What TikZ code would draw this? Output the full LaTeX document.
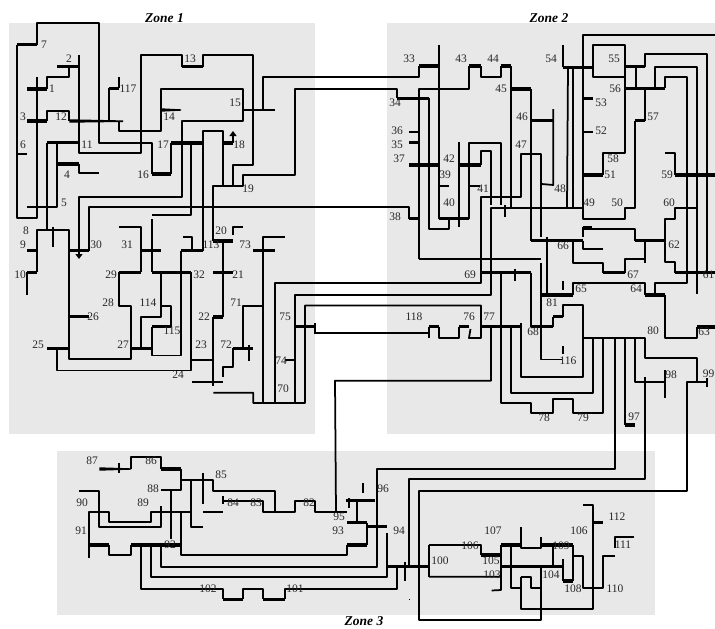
\documentclass[tikz,border=0pt]{standalone}
\usepackage{fontspec}
\setmainfont{Liberation Serif}
\usetikzlibrary{arrows.meta}
\definecolor{zonegray}{HTML}{E8E8E8}
\tikzset{
  zonebox/.style={fill=zonegray,draw=none},
  wire/.style={draw=black,line width=1.75pt,line join=round,line cap=butt},
  bus/.style={draw=black,line width=3.3pt,line cap=butt},
  lbl/.style={inner sep=0pt,font=\fontsize{11.5}{12}\selectfont,text=black!85},
  ztitle/.style={inner sep=0pt,font=\fontsize{13.5}{14}\selectfont\bfseries\itshape}
}
\begin{document}
\begin{tikzpicture}[x=1pt,y=-1pt]
\useasboundingbox (0,0) rectangle (715,629);
% zones
\fill[zonebox] (9,23) rectangle (315,434);
\fill[zonebox] (387,23) rectangle (715,434);
\fill[zonebox] (57,451) rectangle (655,615);
% ---------- Zone 1 wires
\draw[wire] (37,44.7) -- (37,23) -- (99,23) -- (99,143) -- (152,143) -- (152,174);
\draw[wire] (171.3,174) -- (171.3,143);
\draw[wire] (203.3,143) -- (203.3,131) -- (223.3,131) -- (223.3,186);
\draw[wire] (203.3,143) -- (203.3,250.7);
\draw[wire] (152,215) -- (191,215) -- (191,143);
\draw[wire] (152,219) -- (152,272.3);
\draw[wire] (191,272.3) -- (191,370.5) -- (57.3,370.5) -- (57.3,348.3);
\draw[wire] (191,360) -- (213.3,360);
\draw[wire] (213.3,317) -- (213.3,386);
\draw[wire] (223,241) -- (223,317);
\draw[wire] (191.7,382) -- (222.7,382);
\draw[wire] (213.3,392.7) -- (253.3,392.7) -- (253.3,403) -- (305,403) -- (305,305.5) -- (481,305.5) -- (481,338) -- (469,338) -- (470.5,329);
\draw[wire] (262.7,403) -- (262.7,236.7) -- (285,236.7);
\draw[wire] (242.7,348.3) -- (242.7,306) -- (262.7,306);
\draw[wire] (249.3,345) -- (249.3,360.7);
\draw[wire] (232.7,348.3) -- (232.7,366.7) -- (222.7,366.7) -- (222.7,376.7);
\draw[wire] (232.7,235) -- (232.7,226.7) -- (242.7,226.7);
\draw[wire] (213.3,241) -- (213.3,186) -- (242.7,186) -- (242.7,175) -- (295,175) -- (295,89) -- (397,89) -- (397,98.3);
\draw[wire] (233.3,186) -- (233.3,165) -- (253.3,165) -- (253.3,55) -- (203.3,55) -- (203.3,66.7);
\draw[wire] (181.7,66.7) -- (181.7,55) -- (141,55) -- (141,152.7) -- (79,152.7) -- (79,55);
\draw[wire] (183,236.7) -- (191.7,236.7) -- (191.7,250.7);
\draw[wire] (181,250.7) -- (181,355.5) -- (151.7,355.5) -- (151.7,326.7);
\draw[wire] (171,326.7) -- (171,306) -- (161,306);
\draw[wire] (161,272.3) -- (161,316.7) -- (141,316.7) -- (141,348.3);
\draw[wire] (131,348.3) -- (131,306) -- (119.3,306) -- (119.3,272.3);
\draw[wire] (131,348.3) -- (131,359) -- (69.3,359) -- (69.3,230) -- (36.7,230) -- (36.7,272.3);
\draw[wire] (141,272.3) -- (141,226.7) -- (119.3,226.7);
\draw[wire] (27.3,272.3) -- (27.3,295);
\draw[wire] (52.7,227) -- (52.7,246.7);
\draw[wire] (47.3,142.7) -- (47.3,230);
\draw[wire] (57.3,142.7) -- (57.3,207.3) -- (27.3,207.3);
\draw[wire] (79,164) -- (79,172.7) -- (99,172.7);
\draw[wire] (69.3,66.7) -- (69.3,77.3) -- (47.3,77.3) -- (47.3,89);
\draw[wire] (36.7,77) -- (36.7,218) -- (17.3,218) -- (17.3,44.7);
\draw[wire] (47.3,121) -- (47.3,110.7) -- (69.3,110.7) -- (69.3,121);
\draw[wire] (109.3,121) -- (109.3,88.3);
\draw[wire] (119.3,77) -- (119.3,88.3);
\draw[wire] (119.3,121) -- (119.3,131) -- (161,131) -- (161,89) -- (242.7,89) -- (242.7,120.7) -- (181.7,120.7) -- (181.7,196.7) -- (79,196.7) -- (79,250.7);
\draw[wire] (243,110) -- (275,110);
\draw[wire] (262.7,110) -- (262.7,77) -- (419,77) -- (419,66);
\draw[wire] (89.3,250.7) -- (89.3,207.3) -- (409,207.3) -- (409,218.7);
\draw[wire] (17.3,154) -- (26.7,154);
% ---------- Zone 2 wires
\draw[wire] (439,45) -- (439,218.7);
\draw[wire] (419,259) -- (419,89) -- (469.3,89) -- (469.3,66);
\draw[wire] (419,259) -- (541,259);
\draw[wire] (541,263) -- (541,359.5) -- (562,359.5);
\draw[wire] (563.3,346) -- (563.3,354);
\draw[wire] (480.7,66) -- (480.7,77) -- (500.7,77) -- (500.7,66);
\draw[wire] (510.7,66) -- (510.7,207.7);
\draw[wire] (530.7,89) -- (530.7,240.7);
\draw[wire] (553.3,109) -- (553.3,185) -- (541.7,184);
\draw[wire] (275,403) -- (275,282.7) -- (481,282.7) -- (481,197) -- (521,197) -- (521,154) -- (541,154) -- (541,237);
\draw[wire] (295,403) -- (295,295) -- (491,295) -- (491,207.7) -- (583.3,207.7);
\draw[wire] (547,237) -- (547,295);
\draw[wire] (429,98.3) -- (429,228.7) -- (449.3,228.7) -- (449.3,218.7);
\draw[wire] (459,141.7) -- (459,226.7);
\draw[wire] (480.7,165) -- (480.7,150.7) -- (491,150.7) -- (491,205);
\draw[wire] (469.3,218.7) -- (469.3,143.3) -- (500.7,143.3) -- (500.7,205);
\draw[wire] (469.3,185.7) -- (480,185.7);
\draw[wire] (439,185.7) -- (449,185.7);
\draw[wire] (409.3,131.7) -- (419,131.7);
\draw[wire] (505,205) -- (505,216.7);
\draw[wire] (515,269.3) -- (515,281);
\draw[wire] (563.3,67.3) -- (563.3,45);
\draw[wire] (568,67.3) -- (567,207.7);
\draw[wire] (573.3,67.3) -- (573.3,207.7);
\draw[wire] (625,76.7) -- (593.3,76.7) -- (593.3,45) -- (625,45) -- (625,153.3) -- (603.3,153.3) -- (603.3,175);
\draw[wire] (583.3,132.3) -- (593.3,132.3);
\draw[wire] (635.7,66.7) -- (635.7,88.3);
\draw[wire] (645,88.3) -- (645,120.7);
\draw[wire] (635,120.7) -- (635,207.7) -- (625,207.7) -- (625,219) -- (583.3,219) -- (583.3,35) -- (715,35);
\draw[wire] (645,66.7) -- (645,54.3) -- (707.3,54.3) -- (707.3,272.7);
\draw[wire] (655,88.3) -- (655,67.3) -- (697.3,67.3) -- (697.3,294);
\draw[wire] (665,88.3) -- (665,77) -- (687.3,77) -- (687.3,282.7) -- (655,282.7) -- (655,295);
\draw[wire] (665,152.7) -- (675,152.7) -- (675,175);
\draw[wire] (697.3,207.7) -- (675,207.7) -- (675,219) -- (665,219) -- (665,262.3) -- (675,262.3) -- (675,272.7);
\draw[wire] (573.3,295) -- (573.3,283) -- (645,283) -- (645,295);
\draw[wire] (665,295) -- (665,338) -- (697.3,338) -- (697.3,327);
\draw[wire] (583.3,227.3) -- (583.3,236.7);
\draw[wire] (583.3,229) -- (635,229) -- (635,240.7);
\draw[wire] (583.3,240.7) -- (583.3,249.3) -- (603.3,249.3);
\draw[wire] (573.3,240.7) -- (573.3,262.7) -- (603.3,262.7) -- (603.3,272.7);
\draw[wire] (625,272.7) -- (625,259) -- (645,259);
\draw[wire] (645,240.7) -- (645,262.7);
\draw[wire] (563.3,281) -- (563.3,290);
\draw[wire] (553.3,316.7) -- (553.3,326.7);
\draw[wire] (563.3,316.7) -- (563.3,305) -- (583.3,305) -- (583.3,376.7) -- (520.7,376.7) -- (520.7,323);
\draw[wire] (531,272.7) -- (531,326.7);
\draw[wire] (501,272.7) -- (501,402.7) -- (531,402.7) -- (531,413.3) -- (552.7,413.3) -- (552.7,399) -- (573.3,399) -- (573.3,413.3) -- (603.3,413.3) -- (603.3,337.7);
\draw[wire] (511,326.7) -- (511,392.7) -- (593.3,392.7) -- (593.3,337.7);
\draw[wire] (491,326.7) -- (491,380.7) -- (335,380.7) -- (336,511.7);
\draw[wire] (583.3,337.7) -- (645,337.7) -- (645,358.3) -- (697.3,358.3) -- (697.3,381.7) -- (687.3,381.7) -- (687.3,491) -- (419,491) -- (419,620) -- (541,620) -- (541,566.7);
\draw[wire] (615,337.7) -- (615,469) -- (376.7,469) -- (376.7,566.7) -- (161,566.7) -- (161,545);
\draw[wire] (625,337.7) -- (625,425);
\draw[wire] (635,337.7) -- (635,381.7) -- (665,381.7);
\draw[wire] (665,370) -- (665,398);
\draw[wire] (645,377) -- (645,474);
\draw[wire] (697.3,381.7) -- (707,381.7);
\draw[wire] (707,378) -- (707,387);
\draw[wire] (645,474) -- (645,479) -- (409,479) -- (409,566.7);
\draw[wire] (429,338) -- (429,326.7);
\draw[wire] (439,326.7) -- (439,338.3) -- (459,338.3) -- (459,326.7);
\draw[wire] (429,332.7) -- (315,332.7);
\draw[wire] (315,323) -- (315,334);
\draw[wire] (285,360) -- (295,360);
% ---------- Zone 3 wires
\draw[wire] (119,463.3) -- (119,472.7);
\draw[wire] (131,469) -- (131,456.7) -- (161,456.7) -- (161,469);
\draw[wire] (181,469) -- (181,490) -- (161,490);
\draw[wire] (181,480) -- (213.3,480) -- (213.3,491) -- (275,491) -- (275,511.7);
\draw[wire] (203,473.3) -- (203,504.3);
\draw[wire] (203.3,511.7) -- (222.7,511.7);
\draw[wire] (190.7,480) -- (190.7,526.7) -- (202.7,526.7);
\draw[wire] (171,490) -- (171,539);
\draw[wire] (222.7,496) -- (222.7,504.3);
\draw[wire] (222.7,500.7) -- (262.7,500.7) -- (262.7,511.7) -- (295,511.7) -- (295,500.7) -- (315,500.7) -- (315,511.7) -- (346.7,511.7);
\draw[wire] (349,498) -- (349,508.3);
\draw[wire] (363,483.3) -- (363,492.7);
\draw[wire] (357,500.7) -- (357,522.7);
\draw[wire] (366.7,522.7) -- (366.7,545);
\draw[wire] (347.3,545) -- (347.3,555) -- (181,555) -- (181,512.3);
\draw[wire] (190.7,512.3) -- (151,512.3) -- (151,522.3) -- (109,522.3) -- (109,512.3) -- (89,512.3) -- (89,558.3);
\draw[wire] (109,545) -- (109,555) -- (131,555) -- (131,545);
\draw[wire] (79,491) -- (99,491) -- (99,526.7) -- (161,526.7) -- (161,505.7);
\draw[wire] (141,545) -- (141,589) -- (223.3,589) -- (223.3,599.3);
\draw[wire] (243.3,599.3) -- (243.3,589) -- (263.3,589) -- (263.3,599.3);
\draw[wire] (285,599.3) -- (285,589) -- (397.3,589) -- (397.3,566.7);
\draw[wire] (151,545) -- (151,576.7) -- (386.7,576.7) -- (386.7,533.3);
\draw[wire] (405,561.7) -- (405,581);
\draw[wire] (429,545) -- (429,576.7);
\draw[wire] (429,545) -- (481,545) -- (481,555);
\draw[wire] (429,576.7) -- (501,576.7) -- (501,590) -- (491.7,590.5);
\draw[wire] (501,545) -- (501,576.7);
\draw[wire] (510.7,545) -- (510.7,587.7) -- (520.7,587.7);
\draw[wire] (520.7,527.3) -- (520.7,548.3) -- (541,548.3) -- (541,537.3);
\draw[wire] (552.7,545) -- (552.7,566.7);
\draw[wire] (563.3,559.3) -- (563.3,581);
\draw[wire] (573.3,581) -- (573.3,545);
\draw[wire] (573.3,555.7) -- (583.3,555.7) -- (583.3,587.7) -- (603.3,587.7) -- (603.3,555.7) -- (615,555.7);
\draw[wire] (634.3,536.7) -- (615,536.7) -- (615,548.3);
\draw[wire] (520.7,576.7) -- (520.7,609) -- (593.3,609) -- (593.3,516);
\draw[wire] (583.3,505) -- (593.3,505) -- (593.3,516);
\draw[wire] (520.7,576.7) -- (530.7,576.7) -- (530.7,587.7) -- (541,587.7);
\fill (408.6,598.6) rectangle (409.8,599.8);
% ---------- buses
\foreach \xa/\xb/\yy in {
17/37/44.7, 57.3/79/66.7, 27.3/47.3/89, 109.3/119.3/88.3, 27.3/47.3/121,
47.3/79/142.7, 57.3/79/164, 152/171.3/174, 171.3/203.3/143, 223.3/233/143,
181.7/203.3/66.7, 27.3/36.7/250.7, 27.3/36.7/272.3, 69.3/89.3/250.7, 141/161/250.7,
119.3/141/272.3, 152/191/272.3, 181/203.3/250.7, 213.3/233/241, 213.3/233/272.3,
213.3/223/317, 69.3/89.3/316.7, 151.7/171/326.7, 47.3/69.3/348.3, 131/151.7/348.3,
232.7/252.7/348.3, 253.3/275/250.7, 295/315/326.7,
419/439/66, 469.3/480.7/66, 500.7/510.7/66, 397/429/98.3, 510.7/530.7/89,
530.7/553/120.7, 409.3/419/142.7, 409.3/439/165, 459/480.7/165, 409/419/218.7,
439/469.3/218.7, 563.3/593.3/67.3, 625.7/645/66.7, 625.7/665/88.3, 583.3/593.3/98.7,
635/645/120.7, 583.3/603.3/175, 675/715/175, 530.7/583.3/240.7, 583.3/592/227.3,
635/665/240.7, 603.3/625/272.7, 675/715/272.7, 541/573.3/295, 645/665/295,
697.3/715/327, 481.7/531/272.7, 481.7/520.7/326.7, 531/552.7/326.7, 553/563.3/316.7,
625/635/425, 429/439/326.7, 459/469/326.7,
161/181/469, 345.7/375/500.7, 347.3/366.7/522.7, 366.7/386.7/526.7, 347.3/366.7/545,
89/109/545, 131/181/545, 223.3/243.3/599.3, 263.3/285/599.3, 387.7/429/566.7,
481/501/555, 501/562.3/566.7, 501/520.7/545, 541/573.3/545, 563.3/573.3/581, 593.3/602.7/522.3
}{\draw[bus] (\xa,\yy) -- (\xb,\yy);}
% tapered busses
\fill (69.3,119.3) -- (123,120.4) -- (123,122) -- (69.3,122.7) -- cycle;
\fill (161,108.3) -- (181,109.3) -- (181,110.7) -- (161,111.7) -- cycle;
\fill (99.3,467.3) -- (131,468.3) -- (131,469.7) -- (99.3,470.7) -- cycle;
% load arrows
\draw[wire,-{Triangle[width=7pt,length=5pt]}] (233,143) -- (233,131);
\draw[wire,-{Triangle[width=7pt,length=5pt]}] (79,250) -- (79,259);
% ---------- labels
\foreach \nm/\xx/\yy/\tx in {
a7/44/45/7, a2/69/59/2, a1/52/89/1, a117/128/89/117, a3/23/117/3, a12/61/117/12, a14/169/117/14,
a6/23/145/6, a11/87/145/11, a17/163/145/17, a4/67/175/4, a16/143/175/16, a5/64/203/5,
a13/190/59/13, a15/235/103/15, a18/239/145/18, a19/248/189/19,
a8/26/231/8, a9/23/245/9, a30/96/245/30, a31/127/245/31, a10/20/275/10, a29/111/275/29,
a28/108/303/28, a114/148/303/114, a26/93/317/26, a115/172/331/115, a25/38/345/25, a27/123/345/27,
a20/221/231/20, a113/211/245/113, a73/245/245/73, a32/199/275/32, a21/238/275/21, a71/236/303/71,
a22/204/317/22, a75/285/317/75, a23/201/345/23, a72/226/345/72, a74/281/361/74, a24/178/375/24, a70/283/389/70,
a33/409/59/33, a43/461/59/43, a44/493/59/44, a54/551/59/54, a45/501/89/45, a34/395/103/34,
a46/522/117/46, a36/397/131/36, a35/397/145/35, a47/521/145/47, a37/399/159/37, a42/449/159/42,
a39/445/175/39, a41/483/189/41, a40/449/203/40, a38/395/217/38,
a55/614/59/55, a56/615/89/56, a53/601/103/53, a57/653/117/57, a52/601/131/52, a58/613/159/58,
a51/610/175/51, a59/667/175/59, a48/560/189/48, a49/589/203/49, a50/617/203/50, a60/669/203/60,
a66/563/246/66, a62/674/245/62, a67/633/275/67, a61/708.5/275/61, a65/581/289/65, a64/636/289/64,
a81/552/303/81, a63/704/332/63, a80/653/331/80, a68/533/332/68, a116/568/361/116, a98/671/375/98,
a99/708.5/374/99, a97/634/417/97, a78/544/418/78, a79/583/418/79, a69/470/275/69, a118/414/317/118,
a76/469/317/76, a77/489/317/77,
a87/92/461/87, a86/151/461/86, a85/221/475/85, a88/153/489/88, a90/82/503/90, a89/143/503/89,
a84/233/503/84, a91/81/531/91, a92/170/545/92, a102/208/589/102, a83/256/503/83, a82/309/503/82,
a96/383/489/96, a95/339/517/95, a93/338/531/93, a94/399/531/94, a101/295/589/101,
a100/440/561/100, a107/493/531/107, a106/470/546/106, b106/579/531/106, a112/617/517/112,
a109/561/546/109, a111/623/545/111, a105/491/561/105, a103/492/575/103, a104/551/575/104,
a108/573/589/108, a110/615/589/110
}{\node[lbl] (\nm) at (\xx,\yy) {\tx};}
\node[ztitle] (zone1) at (164.5,18) {Zone 1};
\node[ztitle] (zone2) at (549,18) {Zone 2};
\node[ztitle] (zone3) at (364,621) {Zone 3};
\end{tikzpicture}
\end{document}
